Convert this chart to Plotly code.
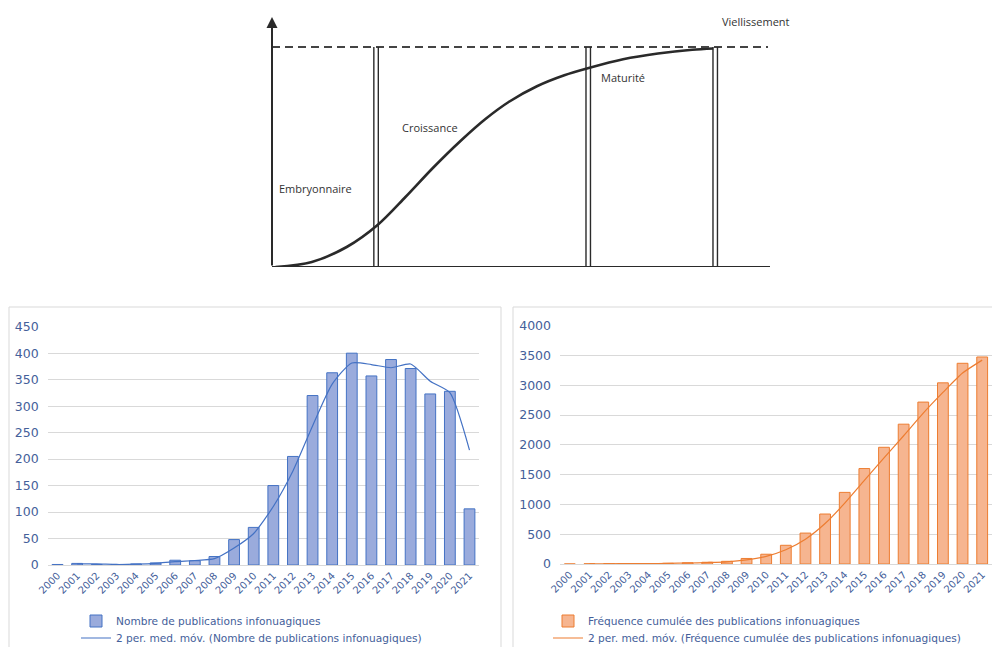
import plotly.graph_objects as go

# ---- Life-cycle diagram (abstract units: time 0-100, level 0-100) ----
cycle_time = [0.7, 8.0, 15.0, 21.2, 26.8, 32.3, 37.9, 42.8, 47.6, 53.2, 58.7, 63.6, 70.5, 77.5, 84.4, 88.6]
cycle_level = [0, 2, 8, 16.8, 28, 39.6, 50.5, 59.1, 66.1, 72.3, 76.7, 79.6, 83.1, 85.4, 86.9, 87.4]
phase_bounds = [20.9, 63.5, 89.0]
ceiling_level = 88
phase_names = ["Embryonnaire", "Croissance", "Maturité", "Viellissement"]
phase_label_time = [1.0, 25.7, 65.7, 90.0]
phase_label_level = [31.6, 56, 76, 98.4]

# ---- Publication data ----
years = [str(y) for y in range(2000, 2022)]
publications = [1, 3, 1, 1, 2, 4, 9, 8, 16, 48, 71, 150, 205, 320, 363, 400, 357, 388, 371, 323, 328, 106]
ma_years = years[1:]
publications_ma = [2, 2, 1, 1.5, 3, 6.5, 8.5, 12, 32, 59.5, 110.5, 177.5, 262.5, 341.5,
                   381.5, 378.5, 372.5, 379.5, 347, 325.5, 217]
cumulative = [1, 4, 5, 6, 8, 12, 21, 29, 45, 93, 164, 314, 519, 839, 1202, 1602,
              1959, 2347, 2718, 3041, 3369, 3475]
cumulative_ma = [2.5, 4.5, 5.5, 7, 10, 16.5, 25, 37, 69, 128.5, 239, 416.5, 679, 1020.5,
                 1402, 1780.5, 2153, 2532.5, 2879.5, 3205, 3422]

W, H = 992, 647
TXT = "#44609a"
GRID = "#d9d9d9"
INK = "#2a2a2a"
BLUE, BLUE_FILL = "#4472C4", "#9aabdc"
ORANGE, ORANGE_FILL = "#ED7D31", "#f6b590"

fig = go.Figure()

# Life-cycle S curve
fig.add_trace(go.Scatter(
    x=cycle_time, y=cycle_level, mode="lines", xaxis="x3", yaxis="y3",
    line=dict(color=INK, width=2.6, shape="spline", smoothing=0.9),
    showlegend=False, hoverinfo="skip"))

# Left chart: yearly publications
fig.add_trace(go.Bar(
    x=years, y=publications, xaxis="x", yaxis="y", width=0.55,
    marker=dict(color=BLUE_FILL, line=dict(color=BLUE, width=1)),
    name="Nombre de publications infonuagiques", legend="legend"))
fig.add_trace(go.Scatter(
    x=ma_years, y=publications_ma, xaxis="x", yaxis="y", mode="lines",
    line=dict(color=BLUE, width=1.2, shape="spline", smoothing=0.6),
    name="2 per. med. móv. (Nombre de publications infonuagiques)", legend="legend2"))

# Right chart: cumulative publications
fig.add_trace(go.Bar(
    x=years, y=cumulative, xaxis="x2", yaxis="y2", width=0.55,
    marker=dict(color=ORANGE_FILL, line=dict(color=ORANGE, width=1)),
    name="Fréquence cumulée des publications infonuagiques", legend="legend3"))
fig.add_trace(go.Scatter(
    x=ma_years, y=cumulative_ma, xaxis="x2", yaxis="y2", mode="lines",
    line=dict(color=ORANGE, width=1.2, shape="spline", smoothing=0.6),
    name="2 per. med. móv. (Fréquence cumulée des publications infonuagiques)", legend="legend4"))

shapes = []
# diagram axes
shapes.append(dict(type="line", xref="x3", yref="y3", x0=0, y0=0, x1=100, y1=0,
                   line=dict(color=INK, width=2)))
shapes.append(dict(type="line", xref="x3", yref="y3", x0=0, y0=ceiling_level, x1=99.6, y1=ceiling_level,
                   line=dict(color="#444444", width=2, dash="8px,5px")))
for b in phase_bounds:
    for off in (-0.45, 0.45):
        shapes.append(dict(type="line", xref="x3", yref="y3", x0=b + off, y0=0, x1=b + off,
                           y1=ceiling_level, line=dict(color=INK, width=1.4)))

# chart frames
for x0, x1 in ((9, 501), (513, 994)):
    shapes.append(dict(type="rect", xref="paper", yref="paper",
                       x0=x0 / W, x1=x1 / W, y0=-0.01, y1=1 - 307 / H,
                       line=dict(color=GRID, width=1), fillcolor="rgba(0,0,0,0)", layer="below"))

annotations = []
# vertical axis with arrow head
annotations.append(dict(x=0, y=100, ax=0, ay=0, xref="x3", yref="y3", axref="x3", ayref="y3",
                        showarrow=True, arrowhead=2, arrowsize=1.1, arrowwidth=2, arrowcolor=INK,
                        text=""))
for name, t, lv in zip(phase_names, phase_label_time, phase_label_level):
    annotations.append(dict(x=t, y=lv, xref="x3", yref="y3", text=name, showarrow=False,
                            xanchor="left", yanchor="middle",
                            font=dict(family="Open Sans", size=11, color="#333333")))

tick_font_y = dict(family="DejaVu Sans", size=12.5, color=TXT)
tick_font_x = dict(family="DejaVu Sans", size=10, color=TXT)
legend_font = dict(family="DejaVu Sans", size=10.6, color=TXT)


def legend_at(px, py):
    return dict(x=px / W, y=1 - py / H, xanchor="left", yanchor="middle",
                font=legend_font, bgcolor="rgba(0,0,0,0)", itemwidth=30,
                borderwidth=0)


fig.update_layout(
    width=W, height=H,
    margin=dict(l=0, r=0, t=0, b=0, autoexpand=False),
    paper_bgcolor="white", plot_bgcolor="white",
    showlegend=True,
    xaxis=dict(domain=[47.7 / W, 479.3 / W], anchor="y", type="category", range=[-0.5, 21.5],
               showgrid=False, showline=True, linecolor=GRID, linewidth=1, ticks="",
               tickangle=-45, tickfont=tick_font_x),
    yaxis=dict(domain=[1 - 565 / H, 1 - 326.7 / H], anchor="x", range=[0, 450], dtick=50,
               showgrid=True, gridcolor=GRID, gridwidth=1, zeroline=False, showline=False,
               ticks="", tickfont=tick_font_y, ticklabelstandoff=8),
    xaxis2=dict(domain=[560 / W, 1.0], anchor="y2", type="category", range=[-0.5, 21.5],
                showgrid=False, showline=True, linecolor=GRID, linewidth=1, ticks="",
                tickangle=-45, tickfont=tick_font_x),
    yaxis2=dict(domain=[1 - 564 / H, 1 - 325.7 / H], anchor="x2", range=[0, 4000], dtick=500,
                showgrid=True, gridcolor=GRID, gridwidth=1, zeroline=False, showline=False,
                ticks="", tickfont=tick_font_y, ticklabelstandoff=8),
    xaxis3=dict(domain=[272 / W, 770 / W], anchor="y3", range=[0, 100], visible=False),
    yaxis3=dict(domain=[1 - 267 / H, 1 - 17 / H], anchor="x3", range=[0, 100], visible=False),
    legend=legend_at(76, 621),
    legend2=legend_at(76, 638),
    legend3=legend_at(548, 621),
    legend4=legend_at(548, 638),
    shapes=shapes,
    annotations=annotations,
)

fig.write_html("out.html")
